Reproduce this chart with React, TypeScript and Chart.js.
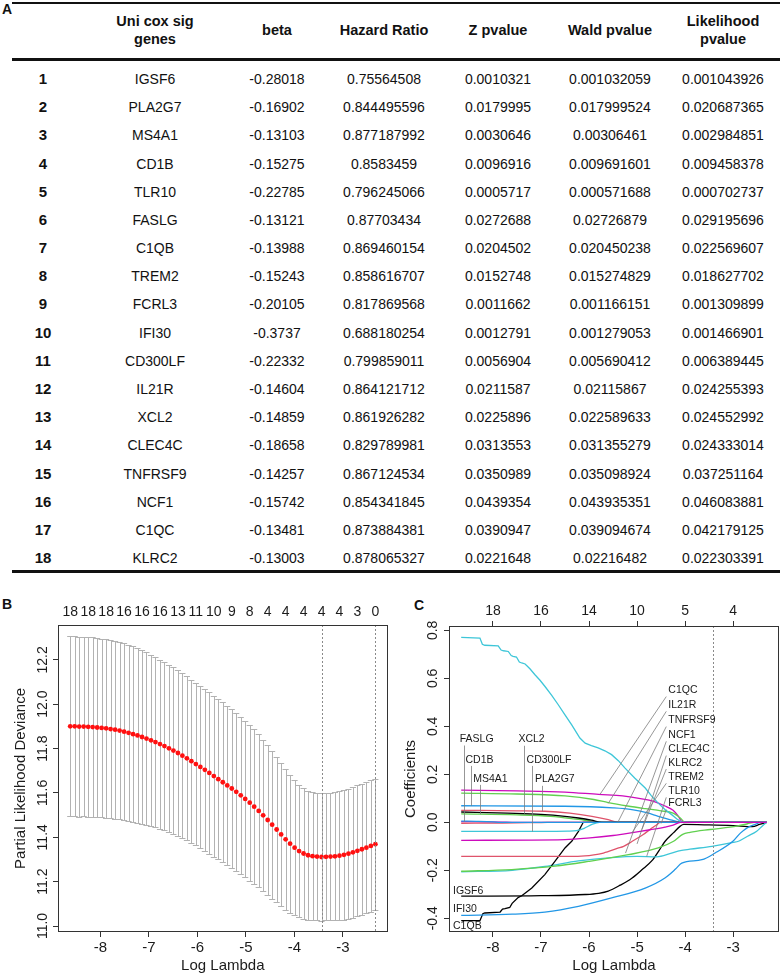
import React, { useEffect, useRef } from "react";
import { Chart, registerables } from "chart.js";

Chart.register(...registerables);

const FONT = '"Liberation Sans", Arial, Helvetica, sans-serif';

// ================= Panel A : univariate Cox table =================
const tableHeaders = ["Uni cox sig\ngenes", "beta", "Hazard Ratio", "Z pvalue", "Wald pvalue", "Likelihood\npvalue"];
const rowNumbers = [1, 2, 3, 4, 5, 6, 7, 8, 9, 10, 11, 12, 13, 14, 15, 16, 17, 18];
const uniCoxGenes = ["IGSF6", "PLA2G7", "MS4A1", "CD1B", "TLR10", "FASLG", "C1QB", "TREM2", "FCRL3", "IFI30", "CD300LF", "IL21R", "XCL2", "CLEC4C", "TNFRSF9", "NCF1", "C1QC", "KLRC2"];
const betaValues = ["-0.28018", "-0.16902", "-0.13103", "-0.15275", "-0.22785", "-0.13121", "-0.13988", "-0.15243", "-0.20105", "-0.3737", "-0.22332", "-0.14604", "-0.14859", "-0.18658", "-0.14257", "-0.15742", "-0.13481", "-0.13003"];
const hazardRatios = ["0.75564508", "0.844495596", "0.877187992", "0.8583459", "0.796245066", "0.87703434", "0.869460154", "0.858616707", "0.817869568", "0.688180254", "0.799859011", "0.864121712", "0.861926282", "0.829789981", "0.867124534", "0.854341845", "0.873884381", "0.878065327"];
const zPvalues = ["0.0010321", "0.0179995", "0.0030646", "0.0096916", "0.0005717", "0.0272688", "0.0204502", "0.0152748", "0.0011662", "0.0012791", "0.0056904", "0.0211587", "0.0225896", "0.0313553", "0.0350989", "0.0439354", "0.0390947", "0.0221648"];
const waldPvalues = ["0.001032059", "0.017999524", "0.00306461", "0.009691601", "0.000571688", "0.02726879", "0.020450238", "0.015274829", "0.001166151", "0.001279053", "0.005690412", "0.02115867", "0.022589633", "0.031355279", "0.035098924", "0.043935351", "0.039094674", "0.02216482"];
const likelihoodPvalues = ["0.001043926", "0.020687365", "0.002984851", "0.009458378", "0.000702737", "0.029195696", "0.022569607", "0.018627702", "0.001309899", "0.001466901", "0.006389445", "0.024255393", "0.024552992", "0.024333014", "0.037251164", "0.046083881", "0.042179125", "0.022303391"];

// ================= Panel B : cross-validation curve =================
const cvLogLambda = [
  -8.620, -8.528, -8.435, -8.343, -8.250, -8.158, -8.065, -7.973, -7.880, -7.788,
  -7.695, -7.603, -7.510, -7.418, -7.325, -7.233, -7.140, -7.048, -6.955, -6.863,
  -6.770, -6.678, -6.585, -6.493, -6.400, -6.308, -6.215, -6.123, -6.030, -5.938,
  -5.845, -5.753, -5.660, -5.568, -5.475, -5.383, -5.290, -5.198, -5.105, -5.013,
  -4.920, -4.828, -4.735, -4.643, -4.550, -4.458, -4.365, -4.273, -4.180, -4.088,
  -3.995, -3.903, -3.810, -3.718, -3.625, -3.533, -3.440, -3.348, -3.255, -3.163,
  -3.070, -2.978, -2.885, -2.793, -2.700, -2.608, -2.515, -2.423, -2.330];
const cvMean = [
  11.900, 11.900, 11.899, 11.899, 11.898, 11.897, 11.895, 11.893, 11.891, 11.888,
  11.885, 11.881, 11.876, 11.871, 11.865, 11.859, 11.852, 11.845, 11.837, 11.829,
  11.820, 11.811, 11.801, 11.791, 11.780, 11.768, 11.756, 11.743, 11.730, 11.717,
  11.704, 11.690, 11.676, 11.662, 11.648, 11.634, 11.620, 11.605, 11.589, 11.573,
  11.556, 11.538, 11.519, 11.499, 11.478, 11.457, 11.435, 11.413, 11.391, 11.371,
  11.353, 11.338, 11.327, 11.319, 11.315, 11.313, 11.311, 11.312, 11.313, 11.314,
  11.317, 11.321, 11.326, 11.332, 11.339, 11.346, 11.353, 11.361, 11.369];
const cvSd = [
  0.406, 0.406, 0.406, 0.405, 0.405, 0.404, 0.404, 0.403, 0.403, 0.402,
  0.401, 0.400, 0.399, 0.398, 0.396, 0.394, 0.392, 0.390, 0.387, 0.384,
  0.381, 0.379, 0.377, 0.375, 0.373, 0.371, 0.370, 0.368, 0.367, 0.366,
  0.365, 0.364, 0.363, 0.362, 0.361, 0.360, 0.358, 0.357, 0.355, 0.353,
  0.351, 0.348, 0.345, 0.341, 0.337, 0.333, 0.328, 0.323, 0.317, 0.311,
  0.305, 0.299, 0.294, 0.291, 0.289, 0.288, 0.287, 0.287, 0.288, 0.289,
  0.291, 0.292, 0.293, 0.294, 0.295, 0.295, 0.296, 0.296, 0.296];
const cvTopTickPos = [-8.620, -8.250, -7.880, -7.510, -7.140, -6.770, -6.400, -6.030, -5.660, -5.290, -4.920, -4.550, -4.180, -3.810, -3.440, -3.070, -2.700, -2.330];
const cvTopTickLabels = ["18", "18", "18", "16", "16", "16", "13", "11", "10", "9", "8", "4", "4", "4", "4", "4", "3", "0"];
const cvXTicks = [-8, -7, -6, -5, -4, -3];
const cvYTicks = [11.0, 11.2, 11.4, 11.6, 11.8, 12.0, 12.2];
const cvXRange = [-8.872, -2.078];
const cvYRange = [10.973, 12.357];
const cvLambdaMin = -3.44;
const cvLambda1se = -2.33;

// ================= Panel C : coefficient paths =================
const path_IGSF6 = [[-8.66, -0.308], [-7.0, -0.306], [-6.08, -0.301], [-5.8, -0.296], [-5.6, -0.287], [-5.35, -0.262], [-5.11, -0.233], [-4.9, -0.198], [-4.69, -0.160], [-4.55, -0.12], [-4.42, -0.08], [-4.24, -0.043], [-4.1, -0.016], [-4.03, -0.009], [-3.5, -0.011], [-3.0, -0.014], [-2.6, -0.018], [-2.45, -0.009], [-2.30, 0]];
const path_PLA2G7 = [[-8.66, 0.050], [-7.5, 0.048], [-6.92, 0.046], [-6.4, 0.038], [-5.94, 0.025], [-5.6, 0.011], [-5.39, 0], [-2.30, 0]];
const path_MS4A1 = [[-8.66, 0.035], [-7.5, 0.031], [-6.8, 0.025], [-6.22, 0.012], [-5.9, 0.004], [-5.68, 0], [-2.30, 0]];
const path_CD1B = [[-8.66, 0.069], [-6.5, 0.067], [-5.5, 0.060], [-5.11, 0.053], [-4.8, 0.040], [-4.56, 0.025], [-4.3, 0.010], [-4.07, 0], [-2.30, 0]];
const path_TLR10 = [[-8.66, -0.206], [-7.6, -0.200], [-6.92, -0.184], [-6.22, -0.161], [-5.53, -0.147], [-5.0, -0.142], [-4.59, -0.144], [-4.3, -0.130], [-4.1, -0.118], [-3.9, -0.112], [-3.44, -0.100], [-3.0, -0.084], [-2.89, -0.079], [-2.7, -0.058], [-2.51, -0.037], [-2.38, -0.013], [-2.30, 0]];
const path_FASLG = [[-8.66, 0.003], [-8.2, 0.002], [-7.8, 0.001], [-7.6, 0], [-2.30, 0]];
const path_C1QB = [[-8.66, -0.410], [-8.27, -0.410], [-8.21, -0.381], [-8.17, -0.378], [-7.85, -0.374], [-7.80, -0.362], [-7.75, -0.360], [-7.65, -0.355], [-7.60, -0.338], [-7.47, -0.313], [-7.40, -0.306], [-7.19, -0.274], [-6.92, -0.218], [-6.71, -0.163], [-6.50, -0.107], [-6.36, -0.079], [-6.22, -0.038], [-6.12, 0], [-2.30, 0]];
const path_TREM2 = [[-8.66, -0.004], [-7.8, -0.003], [-7.0, -0.001], [-6.6, 0], [-2.30, 0]];
const path_FCRL3 = [[-8.66, -0.204], [-7.61, -0.197], [-6.71, -0.183], [-6.01, -0.163], [-5.18, -0.135], [-4.56, -0.107], [-4.24, -0.079], [-4.05, -0.050], [-3.9, -0.042], [-3.48, -0.030], [-2.92, -0.016], [-2.7, -0.006], [-2.55, 0], [-2.30, 0]];
const path_IFI30 = [[-8.66, -0.388], [-7.6, -0.383], [-6.92, -0.374], [-6.22, -0.350], [-5.53, -0.315], [-4.83, -0.274], [-4.42, -0.232], [-4.2, -0.195], [-4.07, -0.170], [-3.65, -0.156], [-3.375, -0.128], [-3.0, -0.078], [-2.85, -0.045], [-2.7, -0.022], [-2.51, -0.006], [-2.45, 0], [-2.30, 0]];
const path_CD300LF = [[-8.66, -0.038], [-7.0, -0.038], [-6.44, -0.037], [-6.26, -0.035], [-6.1, -0.025], [-5.95, -0.010], [-5.78, 0], [-2.30, 0]];
const path_IL21R = [[-8.66, 0.134], [-7.5, 0.131], [-6.5, 0.126], [-5.8, 0.116], [-5.3, 0.110], [-4.9, 0.098], [-4.67, 0.088], [-4.42, 0.068], [-4.25, 0.050], [-4.15, 0.028], [-4.05, 0], [-2.30, 0]];
const path_XCL2 = [[-8.66, 0.043], [-7.7, 0.038], [-7.0, 0.033], [-6.5, 0.025], [-6.22, 0.018], [-5.95, 0.009], [-5.74, 0], [-2.30, 0]];
const path_CLEC4C = [[-8.66, -0.142], [-6.23, -0.142], [-5.9, -0.136], [-5.7, -0.128], [-5.4, -0.108], [-5.28, -0.100], [-5.1, -0.079], [-4.87, -0.051], [-4.7, -0.025], [-4.59, -0.010], [-4.52, 0], [-2.30, 0]];
const path_TNFRSF9 = [[-8.66, 0.122], [-7.5, 0.118], [-6.5, 0.110], [-5.9, 0.095], [-5.6, 0.082], [-5.2, 0.068], [-4.83, 0.057], [-4.5, 0.048], [-4.25, 0.038], [-4.1, 0.018], [-4.0, 0], [-2.30, 0]];
const path_NCF1 = [[-8.66, 0.005], [-8.3, 0.004], [-8.0, 0.002], [-7.85, 0], [-2.30, 0]];
const path_C1QC = [[-8.66, 0.771], [-8.27, 0.768], [-8.22, 0.742], [-8.17, 0.738], [-7.89, 0.735], [-7.83, 0.718], [-7.78, 0.715], [-7.68, 0.712], [-7.62, 0.695], [-7.58, 0.692], [-7.51, 0.689], [-7.45, 0.668], [-7.40, 0.664], [-7.33, 0.660], [-7.23, 0.640], [-7.125, 0.615], [-7.02, 0.592], [-6.92, 0.567], [-6.78, 0.530], [-6.64, 0.490], [-6.50, 0.448], [-6.36, 0.406], [-6.19, 0.351], [-6.08, 0.330], [-5.95, 0.320], [-5.81, 0.310], [-5.67, 0.298], [-5.53, 0.282], [-5.39, 0.257], [-5.25, 0.226], [-5.05, 0.185], [-4.83, 0.143], [-4.70, 0.110], [-4.56, 0.080], [-4.42, 0.053], [-4.28, 0.032], [-4.17, 0.014], [-4.07, 0], [-2.30, 0]];
const path_KLRC2 = [[-8.66, -0.075], [-6.5, -0.072], [-5.98, -0.065], [-5.5, -0.055], [-5.29, -0.049], [-5.0, -0.040], [-4.73, -0.031], [-4.42, -0.020], [-4.25, -0.012], [-4.1, 0], [-2.30, 0]];
const coefPaths = [path_IGSF6, path_PLA2G7, path_MS4A1, path_CD1B, path_TLR10, path_FASLG, path_C1QB, path_TREM2, path_FCRL3, path_IFI30, path_CD300LF, path_IL21R, path_XCL2, path_CLEC4C, path_TNFRSF9, path_NCF1, path_C1QC, path_KLRC2];
const stepPaths = ["C1QB", "C1QC"];
const pathPalette = ["#000000", "#DF536B", "#61D04F", "#2297E6", "#3EC6D8", "#CD0BBC"];
const cXTicks = [-8, -7, -6, -5, -4, -3];
const cTopTickLabels = ["18", "16", "14", "10", "5", "4"];
const cYTicks = [-0.4, -0.2, 0.0, 0.2, 0.4, 0.6, 0.8];
const cXRange = [-8.914, -2.046];
const cYRange = [-0.4572, 0.8182];
const cLambdaMin = -3.42;

// label annotations of panel C
const cTopLabelGenes = ["FASLG", "CD1B", "MS4A1", "XCL2", "CD300LF", "PLA2G7"];
const cTopLabelTextL = [-8.69, -8.57, -8.41, -7.47, -7.30, -7.125];
const cTopLabelTextV = [0.346, 0.261, 0.182, 0.345, 0.261, 0.178];
const cTopLeaderL = [-8.60, -8.45, -8.27, -7.35, -7.18, -6.98];
const cTopLeaderTopV = [0.320, 0.235, 0.156, 0.319, 0.235, 0.152];
const cRightLabelGenes = ["C1QC", "IL21R", "TNFRSF9", "NCF1", "CLEC4C", "KLRC2", "TREM2", "TLR10", "FCRL3"];
const cRightLabelTextL = -4.35;
const cRightLabelV = [0.549, 0.4875, 0.424, 0.3625, 0.303, 0.247, 0.1875, 0.129, 0.078];
const cRightLeaderEndL = [-5.77, -5.60, -5.40, -5.24, -5.00, -4.90, -5.11, -4.80, -4.50];
const cRightLeaderEndV = [0.117, 0.079, 0.0, -0.128, -0.09, -0.03, -0.044, -0.142, -0.005];
const cLeftLabelGenes = ["IGSF6", "IFI30", "C1QB"];
const cLeftLabelTextL = -8.83;
const cLeftLabelV = [-0.2875, -0.362, -0.433];

function coefAt(path: number[][], L: number): number {
  for (let i = 0; i < path.length - 1; i++) {
    const [x0, y0] = path[i];
    const [x1, y1] = path[i + 1];
    if (L >= x0 && L <= x1) return y0 + ((y1 - y0) * (L - x0)) / (x1 - x0);
  }
  return path[0][1];
}

function fixedTicks(values: number[]) {
  return (scale: any) => {
    scale.ticks = values.map((v) => ({ value: v }));
  };
}

const INK = "#1c1c1c";

function bottomAxis(range: number[], ticks: number[], height: number) {
  return {
    type: "linear",
    position: "bottom",
    min: range[0],
    max: range[1],
    afterBuildTicks: fixedTicks(ticks),
    afterFit: (s: any) => { s.height = height; },
    grid: { display: true, drawOnChartArea: false, drawTicks: true, tickLength: 5, color: "#333", lineWidth: 1 },
    border: { display: false },
    ticks: { autoSkip: false, maxRotation: 0, minRotation: 0, padding: 2, color: INK, font: { family: FONT, size: 15 }, callback: (v: any) => String(v) },
    title: { display: true, text: "Log Lambda", color: INK, font: { family: FONT, size: 15, lineHeight: 1 }, padding: { top: 0, bottom: 1 } },
  };
}

function leftAxis(range: number[], ticks: number[], width: number, title: string, pad: number) {
  return {
    type: "linear",
    position: "left",
    min: range[0],
    max: range[1],
    afterBuildTicks: fixedTicks(ticks),
    afterFit: (s: any) => { s.width = width; },
    grid: { display: true, drawOnChartArea: false, drawTicks: true, tickLength: 5, color: "#333", lineWidth: 1 },
    border: { display: false },
    ticks: { autoSkip: false, minRotation: 90, maxRotation: 90, crossAlign: "center", padding: pad, color: INK, font: { family: FONT, size: 14 }, callback: (v: any) => Number(v).toFixed(1) },
    title: { display: true, text: title, color: INK, font: { family: FONT, size: 15, lineHeight: 1 }, padding: { top: 13, bottom: 0 } },
  };
}

const cvDecor = {
  id: "cvDecor",
  beforeDatasetsDraw(chart: any) {
    const { ctx, scales } = chart;
    const x = scales.x, y = scales.y;
    ctx.save();
    ctx.strokeStyle = "#B2B2B2";
    ctx.lineWidth = 1;
    const cap = 0.063;
    cvLogLambda.forEach((L, i) => {
      const px = Math.round(x.getPixelForValue(L)) + 0.5;
      const up = Math.round(y.getPixelForValue(cvMean[i] + cvSd[i])) + 0.5;
      const lo = Math.round(y.getPixelForValue(cvMean[i] - cvSd[i])) + 0.5;
      const c0 = x.getPixelForValue(L - cap);
      const c1 = x.getPixelForValue(L + cap);
      ctx.beginPath();
      ctx.moveTo(px, up); ctx.lineTo(px, lo);
      ctx.moveTo(c0, up); ctx.lineTo(c1, up);
      ctx.moveTo(c0, lo); ctx.lineTo(c1, lo);
      ctx.stroke();
    });
    ctx.restore();
  },
  afterDatasetsDraw(chart: any) {
    const { ctx, chartArea: a, scales } = chart;
    const x = scales.x;
    ctx.save();
    ctx.strokeStyle = "#8a8a8a";
    ctx.lineWidth = 1;
    ctx.setLineDash([2, 2]);
    [cvLambdaMin, cvLambda1se].forEach((L) => {
      const px = Math.round(x.getPixelForValue(L)) + 0.5;
      ctx.beginPath(); ctx.moveTo(px, a.top); ctx.lineTo(px, a.bottom); ctx.stroke();
    });
    ctx.setLineDash([]);
    ctx.strokeStyle = "#333";
    ctx.strokeRect(Math.round(a.left) + 0.5, Math.round(a.top) + 0.5, Math.round(a.right - a.left) - 1, Math.round(a.bottom - a.top) - 1);
    ctx.restore();
  },
};

const pathDecor = {
  id: "pathDecor",
  afterDatasetsDraw(chart: any) {
    const { ctx, chartArea: a, scales } = chart;
    const x = scales.x, y = scales.y;
    ctx.save();
    ctx.strokeStyle = "#8a8a8a";
    ctx.lineWidth = 1;
    ctx.setLineDash([2, 2]);
    const pm = Math.round(x.getPixelForValue(cLambdaMin)) + 0.5;
    ctx.beginPath(); ctx.moveTo(pm, a.top); ctx.lineTo(pm, a.bottom); ctx.stroke();
    ctx.setLineDash([]);

    // leader lines
    ctx.strokeStyle = "#7c7c7c";
    ctx.lineWidth = 0.8;
    cTopLabelGenes.forEach((g, i) => {
      const path = coefPaths[uniCoxGenes.indexOf(g)];
      const lx = Math.round(x.getPixelForValue(cTopLeaderL[i])) + 0.5;
      ctx.beginPath();
      ctx.moveTo(lx, y.getPixelForValue(cTopLeaderTopV[i]));
      ctx.lineTo(lx, y.getPixelForValue(coefAt(path, cTopLeaderL[i])));
      ctx.stroke();
    });
    cRightLabelGenes.forEach((g, i) => {
      const sx = x.getPixelForValue(cRightLabelTextL) - 2;
      const sy = y.getPixelForValue(cRightLabelV[i]) + 6;
      ctx.beginPath();
      ctx.moveTo(sx, sy);
      ctx.lineTo(x.getPixelForValue(cRightLeaderEndL[i]), y.getPixelForValue(cRightLeaderEndV[i]));
      ctx.stroke();
    });

    // gene labels
    ctx.fillStyle = "#1a1a1a";
    ctx.font = `10.5px ${FONT}`;
    ctx.textAlign = "left";
    ctx.textBaseline = "middle";
    cTopLabelGenes.forEach((g, i) => {
      ctx.fillText(g, x.getPixelForValue(cTopLabelTextL[i]), y.getPixelForValue(cTopLabelTextV[i]));
    });
    cRightLabelGenes.forEach((g, i) => {
      ctx.fillText(g, x.getPixelForValue(cRightLabelTextL), y.getPixelForValue(cRightLabelV[i]));
    });
    cLeftLabelGenes.forEach((g, i) => {
      ctx.fillText(g, x.getPixelForValue(cLeftLabelTextL), y.getPixelForValue(cLeftLabelV[i]));
    });

    ctx.strokeStyle = "#333";
    ctx.lineWidth = 1;
    ctx.strokeRect(Math.round(a.left) + 0.5, Math.round(a.top) + 0.5, Math.round(a.right - a.left) - 1, Math.round(a.bottom - a.top) - 1);
    ctx.restore();
  },
};

function CvChart() {
  const ref = useRef<HTMLCanvasElement | null>(null);
  useEffect(() => {
    if (!ref.current) return;
    const chart = new Chart(ref.current, {
      type: "scatter",
      data: {
        datasets: [
          {
            data: cvLogLambda.map((L, i) => ({ x: L, y: cvMean[i] })),
            pointRadius: 2.4,
            pointHoverRadius: 2.4,
            pointBackgroundColor: "#FF1010",
            pointBorderWidth: 0,
            showLine: false,
          },
        ],
      },
      options: {
        responsive: false,
        animation: false,
        devicePixelRatio: 1,
        events: [],
        layout: { padding: { left: 0, right: 2, top: 0, bottom: 0 } },
        plugins: { legend: { display: false }, tooltip: { enabled: false } },
        scales: {
          x: bottomAxis(cvXRange, cvXTicks, 42),
          xTop: {
            type: "linear",
            position: "top",
            min: cvXRange[0],
            max: cvXRange[1],
            afterBuildTicks: fixedTicks(cvTopTickPos),
            afterFit: (s: any) => { s.height = 35; },
            grid: { display: false, drawTicks: false },
            border: { display: false },
            ticks: { autoSkip: false, maxRotation: 0, minRotation: 0, padding: 4, color: INK, font: { family: FONT, size: 14 }, callback: (_v: any, i: number) => cvTopTickLabels[i] },
          },
          y: leftAxis(cvYRange, cvYTicks, 58, "Partial Likelihood Deviance", -3.6),
        },
      } as any,
      plugins: [cvDecor],
    } as any);
    return () => chart.destroy();
  }, []);
  return <canvas ref={ref} width={390} height={384} style={{ position: "absolute", left: 0, top: 590, width: 390, height: 384 }} />;
}

function PathChart() {
  const ref = useRef<HTMLCanvasElement | null>(null);
  useEffect(() => {
    if (!ref.current) return;
    const datasets = coefPaths.map((path, i) => ({
      data: path.map(([L, v]) => ({ x: L, y: v })),
      showLine: true,
      borderColor: pathPalette[i % pathPalette.length],
      borderWidth: 1.3,
      pointRadius: 0,
      pointHoverRadius: 0,
      cubicInterpolationMode: stepPaths.includes(uniCoxGenes[i]) ? "default" : "monotone",
      tension: 0,
      order: coefPaths.length - 1 - i,
    }));
    const chart = new Chart(ref.current, {
      type: "scatter",
      data: { datasets },
      options: {
        responsive: false,
        animation: false,
        devicePixelRatio: 1,
        events: [],
        layout: { padding: { left: 0, right: 1, top: 0, bottom: 0 } },
        plugins: { legend: { display: false }, tooltip: { enabled: false } },
        scales: {
          x: bottomAxis(cXRange, cXTicks, 42),
          xTop: {
            type: "linear",
            position: "top",
            min: cXRange[0],
            max: cXRange[1],
            afterBuildTicks: fixedTicks(cXTicks),
            afterFit: (s: any) => { s.height = 36; },
            grid: { display: true, drawOnChartArea: false, drawTicks: true, tickLength: 5, color: "#333", lineWidth: 1 },
            border: { display: false },
            ticks: { autoSkip: false, maxRotation: 0, minRotation: 0, padding: 1, color: INK, font: { family: FONT, size: 14 }, callback: (_v: any, i: number) => cTopTickLabels[i] },
          },
          y: leftAxis(cYRange, cYTicks, 59, "Coefficients", -1.1),
        },
      } as any,
      plugins: [pathDecor],
    } as any);
    return () => chart.destroy();
  }, []);
  return <canvas ref={ref} width={390} height={384} style={{ position: "absolute", left: 390, top: 590, width: 390, height: 384 }} />;
}

const colCenters = [43, 155, 277, 384, 498, 610, 723];

function CoxTable() {
  const columns: string[][] = [rowNumbers.map(String), uniCoxGenes, betaValues, hazardRatios, zPvalues, waldPvalues, likelihoodPvalues];
  const cells: any[] = [];
  tableHeaders.forEach((h, j) => {
    const twoLine = h.includes("\n");
    cells.push(
      <div key={`h${j}`} style={{ position: "absolute", left: colCenters[j + 1] - 80, width: 160, top: twoLine ? 12 : 21, lineHeight: "18px", textAlign: "center", whiteSpace: "pre-line", fontWeight: "bold", fontSize: 14.5, color: "#111" }}>{h}</div>
    );
  });
  columns.forEach((col, j) => {
    col.forEach((txt, i) => {
      const cy = 79 + i * 28.18;
      cells.push(
        <div key={`c${j}_${i}`} style={{ position: "absolute", left: colCenters[j] - 80, width: 160, top: cy - 9, lineHeight: "18px", textAlign: "center", fontSize: j === 0 ? 15 : 14, fontWeight: j === 0 ? "bold" : "normal", color: "#111" }}>{txt}</div>
      );
    });
  });
  return (
    <>
      <div style={{ position: "absolute", left: 12, width: 768, top: 2, height: 2, background: "#111" }} />
      <div style={{ position: "absolute", left: 12, width: 768, top: 58, height: 3, background: "#111" }} />
      <div style={{ position: "absolute", left: 12, width: 768, top: 570, height: 3, background: "#111" }} />
      {cells}
    </>
  );
}

export default function App() {
  const letter = { position: "absolute", fontWeight: "bold", fontSize: 14, color: "#111", lineHeight: "14px" } as any;
  return (
    <div style={{ position: "absolute", left: 0, top: 0, width: 780, height: 974, background: "#fff", fontFamily: FONT, overflow: "hidden" }}>
      <CoxTable />
      <div style={{ ...letter, left: 2, top: 2 }}>A</div>
      <div style={{ ...letter, left: 2, top: 597 }}>B</div>
      <div style={{ ...letter, left: 414, top: 598 }}>C</div>
      <CvChart />
      <PathChart />
    </div>
  );
}
